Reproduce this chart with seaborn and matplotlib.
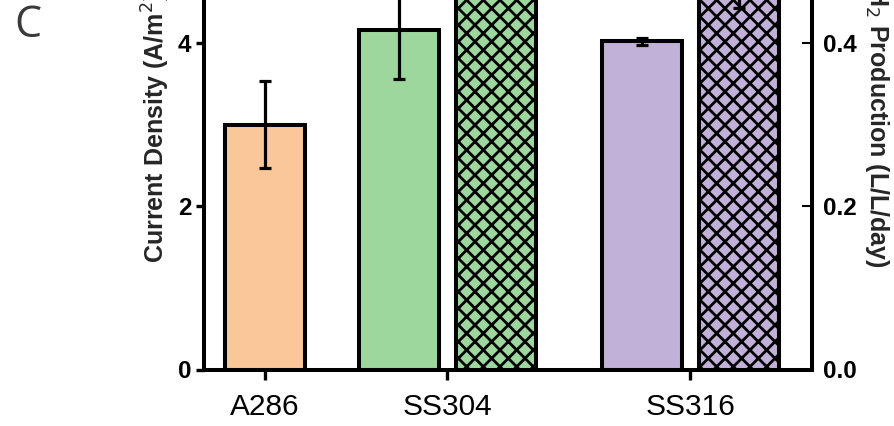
import matplotlib
matplotlib.use("Agg")
import matplotlib.pyplot as plt
import seaborn as sns
import numpy as np

# Data
categories = ["A286", "SS304", "SS316"]
current_density = [3.00, 4.16, 4.02]        # A/m^2
current_err = [0.53, 0.60, 0.04]
h2_categories = ["SS304", "SS316"]
h2_production = [0.50, 0.465]               # L/L/day
h2_err = [0.03, 0.022]

left_ticks = [0, 2, 4]
right_ticks = [0.0, 0.2, 0.4]

colors = {"A286": "#FAC898", "SS304": "#9DD79E", "SS316": "#C1B0D7"}

sns.set_theme(style="ticks")
plt.rcParams["font.family"] = ["Liberation Sans", "DejaVu Sans"]
plt.rcParams["hatch.linewidth"] = 2.0
plt.rcParams["hatch.color"] = "black"

# Layout: group centres and bar offsets (single bar for A286)
group_x = {"A286": 0.0, "SS304": 0.75, "SS316": 1.75}
offset = {"A286": 0.0, "SS304": -0.2, "SS316": -0.2}
h2_offset = 0.2
bar_w = 0.33
edge_lw = 2.9

W, H = 894, 426
px_per_unit = 81.6
ylim_top = 5.94
fig = plt.figure(figsize=(W / 100, H / 100), dpi=100)
ax = fig.add_axes([204 / W, (H - 369.5) / H, 608 / W, ylim_top * px_per_unit / H])
ax2 = ax.twinx()

ax.set_ylim(0, ylim_top)
ax2.set_ylim(0, ylim_top / 10)
ax.set_xlim(-0.251, 2.251)

cur_x = [group_x[c] + offset[c] for c in categories]
ax.bar(cur_x, current_density, width=bar_w,
       color=[colors[c] for c in categories], edgecolor="black",
       linewidth=edge_lw, zorder=2)
ax.errorbar(cur_x, current_density, yerr=current_err, fmt="none",
            ecolor="black", elinewidth=2.3, capsize=4.5, capthick=2.3, zorder=3)

h2_x = [group_x[c] + h2_offset for c in h2_categories]
ax2.bar(h2_x, h2_production, width=bar_w,
        color=[colors[c] for c in h2_categories], edgecolor="black",
        linewidth=edge_lw, hatch="xx", zorder=2)
ax2.errorbar(h2_x, h2_production, yerr=h2_err, fmt="none",
             ecolor="black", elinewidth=2.3, capsize=4.5, capthick=2.3, zorder=3)

# Axes styling
for a in (ax, ax2):
    for s in a.spines.values():
        s.set_linewidth(2.9)
        s.set_color("black")
    a.spines["top"].set_visible(False)
ax.spines["right"].set_visible(False)
ax2.spines["left"].set_visible(False)
ax2.spines["bottom"].set_visible(False)

ax.set_yticks(left_ticks)
ax.set_yticklabels([str(t) for t in left_ticks], fontweight="bold", fontsize=17.5)
ax2.set_yticks(right_ticks)
ax2.set_yticklabels([f"{t:.1f}" for t in right_ticks], fontweight="bold", fontsize=17.5)
ax.set_xticks([group_x[c] for c in categories])
ax.set_xticklabels(categories, fontsize=21.5)

ax.tick_params(axis="y", direction="out", length=6, width=2.4, pad=3, colors="black")
ax.tick_params(axis="x", direction="out", length=7, width=2.4, pad=10, colors="black")
ax2.tick_params(axis="y", direction="in", length=7, width=1.5, pad=8, colors="black")

ax.set_ylabel("Current Density (A/m$^2$)", fontsize=18, fontweight="bold")
ax.yaxis.set_label_coords((172 - 204) / 608, 0.5)
ax2.set_ylabel("H$_2$ Production (L/L/day)", fontsize=18, fontweight="bold",
               rotation=270, va="center")
ax2.yaxis.set_label_coords((877 - 204) / 608, 0.5)

fig.text(14 / W, 1 - 37 / H, "C", fontsize=31, color="#3a3a3a",
         family=["Open Sans", "DejaVu Sans"], va="baseline")

fig.savefig("out.png", dpi=100)
